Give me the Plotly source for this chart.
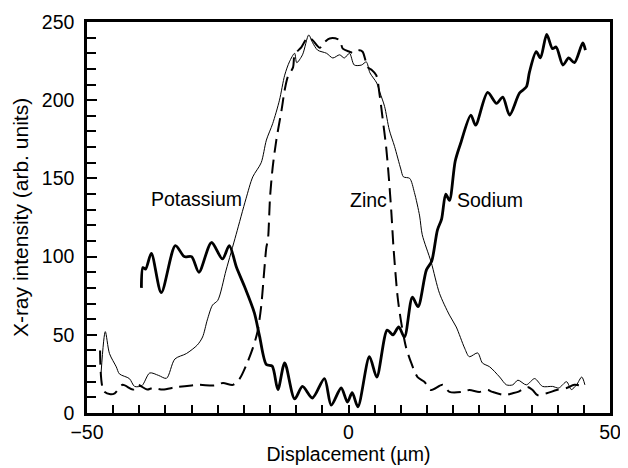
import plotly.graph_objects as go

# Sodium (thick solid)
sodium_x = [-39.6, -39.3, -38.8, -37.7, -35.8, -33.1, -31.4, -30.0, -28.6, -26.2, -24.1, -22.8,
            -21.4, -19.9, -18.0, -17.0, -15.7, -14.6, -13.5, -12.2, -10.3, -8.8, -6.9, -4.6,
            -3.3, -1.4, -0.2, 0.7, 1.8, 4.0, 5.4, 7.4, 8.5, 9.6, 10.7, 12.2, 13.3, 14.9, 15.9,
            17.0, 17.8, 18.6, 19.3, 20.4, 21.4, 23.4, 24.3, 26.6, 28.3, 29.5, 30.8, 32.7, 34.0,
            34.6, 35.9, 36.7, 37.9, 39.0, 39.7, 41.0, 42.1, 43.2, 44.8, 45.3]
sodium_y = [80, 93, 92, 102, 77, 107, 100, 100, 90, 109, 98.5, 107,
            93, 81, 64, 49, 31, 30, 15, 32, 9, 17, 9.6, 22,
            5, 16, 7, 13, 4, 36, 23, 53, 50, 55, 48.5, 74, 68, 91.5, 97,
            117, 124, 140, 136, 161, 172, 190.5, 184, 205, 198, 202, 190.5, 204.6, 208.5,
            218, 231, 227, 242, 233, 234, 222.5, 227, 224, 236.6, 232]

# Potassium (thin solid)
potassium_x = [-47.3, -46.5, -45.7, -44.4, -43.8, -41.9, -40.9, -39.5, -38.0, -36.3, -34.8, -33.2,
               -31.0, -28.9, -27.9, -27.0, -26.0, -25.0, -23.4, -21.5, -19.6, -18.3, -16.7, -15.7,
               -14.5, -13.2, -12.2, -11.3, -10.3, -9.9, -8.8, -7.6, -6.9, -5.9, -4.2, -3.0, -1.7,
               -0.8, 0.2, 1.1, 2.5, 3.4, 4.1, 5.4, 6.0, 6.9, 7.8, 8.8, 10.0, 10.5, 11.7, 12.6,
               13.6, 14.1, 15.8, 17.4, 19.3, 20.6, 22.2, 23.1, 24.7, 25.6, 27.0, 28.9, 30.2, 31.4,
               32.4, 34.0, 35.6, 37.1, 39.0, 40.2, 41.7, 42.6, 43.6, 44.6, 45.2]
potassium_y = [26, 52, 38, 29.5, 25, 22, 17, 17.5, 25.6, 24, 22.2, 34.5,
               38, 43.5, 48.6, 59.5, 69, 72, 91.4, 114, 137, 151, 160, 174.5,
               185, 200, 216, 224.5, 230, 224, 229, 241.7, 237, 232, 230, 227, 229,
               227, 230, 222.5, 222.5, 224.5, 217.5, 211, 205, 196, 181, 170.5, 156, 151, 150, 141,
               126, 114, 96.5, 76.5, 62.6, 55, 41.5, 36, 38.4, 32, 29.5, 23, 18, 18,
               21, 18, 22, 17, 17, 16, 20, 15, 18, 23, 18]

# Zinc (dashed)
zinc_x = [-47.5, -46.8, -45.5, -44.7, -43.2, -41.2, -40.3, -38.5, -37.4, -35.5, -33.0, -30.0,
          -28.5, -25.6, -24.0, -22.1, -20.8, -19.5, -18.3, -17.4, -16.7, -16.1, -15.7, -15.4,
          -15.0, -14.5, -13.8, -12.8, -12.2, -11.6, -10.6, -10.3, -9.0, -7.8, -6.9, -5.5, -4.6,
          -3.6, -1.7, -1.1, 0.2, 1.1, 2.1, 2.7, 3.7, 4.4, 5.3, 5.9, 6.5, 7.2, 7.7, 8.2, 8.6,
          9.4, 10.1, 11.0, 12.0, 13.2, 14.5, 15.8, 18.0, 19.3, 21.8, 23.1, 25.0, 26.6, 27.5,
          29.8, 31.4, 32.4, 34.2, 35.2, 36.1, 37.9, 39.8, 41.7, 43.2, 45.1]
zinc_y = [40, 14, 12, 12.6, 18, 15, 18, 15, 16, 15, 16.5, 17.6,
          18, 17.6, 19.2, 18, 22, 31, 41.5, 52, 68, 91.5, 106, 111,
          138, 157, 174.5, 193.7, 206.5, 215, 221, 229, 234, 240, 238.5, 233.5, 237,
          239.5, 238.5, 233, 231, 230, 232, 231, 221, 219.5, 216, 204.6, 189, 170, 151, 128, 106,
          74, 57.5, 42, 32, 23, 20, 14.7, 18, 13.5, 13.5, 14.7, 13.5, 14.7, 13.5,
          11.5, 12.6, 13.5, 16.6, 14.7, 11.5, 12.6, 14.7, 16, 18, 17]

labels = ["Potassium", "Zinc", "Sodium"]
label_x = [-29.0, 3.8, 27.0]
label_y = [137, 136, 136]

FONT = "Liberation Sans, Arial, sans-serif"

fig = go.Figure()
fig.add_trace(go.Scatter(x=potassium_x, y=potassium_y, mode="lines",
                         line=dict(color="black", width=1, shape="spline", smoothing=0.8),
                         showlegend=False, hoverinfo="skip"))
fig.add_trace(go.Scatter(x=zinc_x, y=zinc_y, mode="lines",
                         line=dict(color="black", width=2, dash="14px,7px", shape="spline", smoothing=0.8),
                         showlegend=False, hoverinfo="skip"))
fig.add_trace(go.Scatter(x=sodium_x, y=sodium_y, mode="lines",
                         line=dict(color="black", width=2.8, shape="spline", smoothing=0.8),
                         showlegend=False, hoverinfo="skip"))

for t, lx, ly in zip(labels, label_x, label_y):
    fig.add_annotation(x=lx, y=ly, text=t, showarrow=False, xanchor="center", yanchor="middle",
                       font=dict(size=19.5, color="black", family=FONT))

# page body adds an 8px offset; figure sized so the plot area lands at 87..610 x 22..413
fig.update_layout(
    width=620, height=460,
    margin=dict(l=79, r=18, t=14, b=55),
    paper_bgcolor="white", plot_bgcolor="white",
    font=dict(family=FONT, size=19, color="black"),
    xaxis=dict(range=[-50, 50], dtick=50, tick0=-50, showgrid=False, zeroline=False,
               showline=True, linecolor="black", linewidth=2.5, mirror=True,
               ticks="inside", ticklen=8, tickwidth=1.5, tickcolor="black",
               minor=dict(dtick=5, ticks="inside", ticklen=8, tickwidth=1.5, tickcolor="black", showgrid=False),
               title=dict(text="Displacement (µm)", standoff=4, font=dict(size=19.5)),
               tickfont=dict(size=19.5), automargin=False),
    yaxis=dict(range=[0, 250], dtick=50, showgrid=False, zeroline=False,
               showline=True, linecolor="black", linewidth=2.5, mirror=True,
               ticks="inside", ticklen=10, tickwidth=1.5, tickcolor="black",
               minor=dict(dtick=10, ticks="inside", ticklen=9, tickwidth=1.5, tickcolor="black", showgrid=False),
               title=dict(text="X-ray intensity (arb. units)", standoff=8, font=dict(size=21)),
               tickfont=dict(size=19.5), ticklabelstandoff=6, automargin=False),
    # overlay axis drawing the outward half of the major y ticks
    yaxis2=dict(range=[0, 250], dtick=50, overlaying="y", side="left", showgrid=False,
                zeroline=False, showline=False, showticklabels=False,
                ticks="outside", ticklen=7, tickwidth=1.5, tickcolor="black", automargin=False),
)

fig.write_html("out.html")
